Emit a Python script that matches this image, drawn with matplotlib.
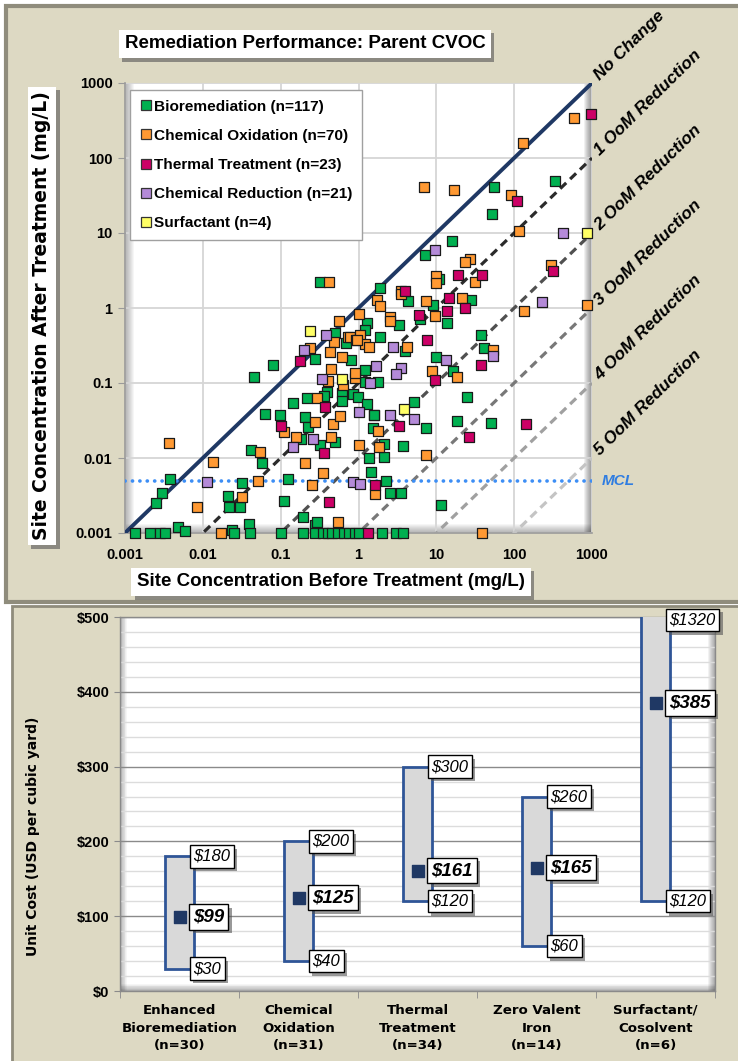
import matplotlib
matplotlib.use("Agg")
import matplotlib.pyplot as plt
import numpy as np
from matplotlib.patches import Rectangle
from matplotlib.lines import Line2D
import matplotlib.patheffects as pe

# ---------------- data: remediation performance (mg/L) ----------------
bio_before = [0.32, 0.5, 0.69, 0.28, 0.08, 0.046, 1.9, 1.28, 1.22, 1.9, 0.79, 1.23, 1.2,
              0.39, 0.22, 0.36, 0.61, 0.86, 0.62, 0.98, 1.28, 0.145, 1.59, 0.063, 0.098,
              0.206, 0.227, 0.18, 0.5, 0.32, 0.042, 0.058, 0.032, 0.126, 0.021, 0.022,
              0.03, 0.11, 1.37, 1.44, 0.196, 0.28, 0.29, 0.039, 0.0038, 0.003, 0.0025,
              0.0048, 0.0059, 0.024,
              0.00133, 0.0021, 0.0028, 0.0033, 0.025, 0.04, 0.101, 0.196, 0.28, 0.35,
              0.40, 0.45, 0.55, 0.65, 0.75, 0.9, 1.0, 1.98, 3.0, 3.7,
              15.7, 7.1, 330, 55, 52, 10.7, 4.3, 9.1, 27.7, 6.2, 13.9, 3.3, 4.0, 37, 41,
              9.9, 16.6, 1.77, 24.5, 18.3, 50, 11.5, 5.1, 7.3, 3.7, 2.1, 2.1, 1.55, 1.6,
              2.26, 2.55, 3.5]
bio_after = [2.2, 0.46, 0.34, 0.21, 0.174, 0.121, 1.86, 0.64, 0.51, 0.41, 0.20, 0.15, 0.104,
             0.077, 0.063, 0.067, 0.073, 0.071, 0.058, 0.066, 0.052, 0.054, 0.037, 0.039, 0.037,
             0.035, 0.026, 0.018, 0.0165, 0.0149, 0.0128, 0.0087, 0.0047, 0.0052, 0.0031, 0.0022,
             0.0022, 0.0027, 0.0099, 0.0066, 0.00165, 0.00128, 0.0014, 0.0013, 0.0052, 0.0034, 0.0025,
             0.0012, 0.00107, 0.0011,
             0.001, 0.001, 0.001, 0.001, 0.001, 0.001, 0.001, 0.001, 0.001, 0.001,
             0.001, 0.001, 0.001, 0.001, 0.001, 0.001, 0.001, 0.001, 0.001, 0.001,
             7.8, 5.1, 49, 41, 18, 2.4, 1.24, 1.08, 1.28, 0.72, 0.63, 0.59, 0.27, 0.43, 0.29,
             0.225, 0.146, 0.104, 0.066, 0.031, 0.029, 0.00236, 0.055, 0.025, 0.0145, 0.0102, 0.0152,
             0.025, 0.038, 0.005, 0.0034, 0.0034]

chemox_before = [0.42, 0.56, 0.73, 0.49, 0.24, 0.43, 0.61, 0.44, 0.41, 1.72, 1.0, 0.78, 0.93,
                 1.05, 1.23, 1.37, 0.90, 0.91, 0.64, 0.29, 0.11, 0.28, 0.47, 0.158, 0.44, 0.054,
                 0.0136, 0.051, 0.206, 0.35, 0.25, 0.032, 0.0083, 0.54, 0.017, 1.63, 1.01, 0.0037,
                 590, 130, 7, 17, 91, 114, 27, 23.5, 299, 9.9, 9.8, 31.7, 855, 135, 3.5, 3.55,
                 1.9, 7.4, 21.4, 9.5, 2.55, 2.55, 4.2, 54, 18.6, 8.7, 7.3, 1.85, 1.77, 39, 0.58, 0.95]
chemox_after = [2.2, 0.68, 0.41, 0.35, 0.29, 0.26, 0.22, 0.152, 0.107, 1.28, 0.82, 0.41, 0.38,
                0.43, 0.33, 0.30, 0.115, 0.134, 0.094, 0.063, 0.022, 0.030, 0.028, 0.019, 0.019, 0.0121,
                0.0089, 0.0049, 0.0085, 0.0064, 0.0043, 0.003, 0.0022, 0.0014, 0.001, 0.0033, 0.0149, 0.016,
                340, 160, 41, 37, 32, 10.6, 4.46, 4.07, 3.74, 2.7, 2.14, 2.2, 1.1, 0.91, 1.66, 1.55,
                1.06, 1.24, 1.35, 0.79, 0.75, 0.68, 0.30, 0.275, 0.121, 0.145, 0.011, 0.0139, 0.023, 0.001, 0.036, 0.37]

thermal_before = [0.176, 0.37, 0.1, 0.36, 0.42, 1.63, 1.34, 975, 110, 19.1, 38.8, 314, 3.9,
                  14.6, 23.5, 13.6, 6.0, 7.5, 37, 9.5, 3.35, 141, 26.3]
thermal_after = [0.198, 0.048, 0.027, 0.0118, 0.0026, 0.0044, 0.001, 390, 27, 2.75, 2.75, 3.14, 1.70,
                 1.35, 0.99, 0.92, 0.81, 0.37, 0.176, 0.11, 0.027, 0.028, 0.019]

chemred_before = [0.38, 0.20, 0.34, 1.68, 1.42, 1.0, 0.143, 0.26, 0.0112, 0.86, 1.05, 9.5, 423,
                  230, 2.8, 54, 13.2, 3.5, 3.0, 2.55, 5.2]
chemred_after = [0.43, 0.275, 0.114, 0.169, 0.099, 0.041, 0.0142, 0.018, 0.0048, 0.0048, 0.0045, 5.9,
                 10.1, 1.2, 0.30, 0.23, 0.20, 0.16, 0.13, 0.038, 0.033]

surf_before = [0.24, 0.62, 3.8, 850]
surf_after = [0.50, 0.114, 0.045, 10]

series_names = ["Bioremediation (n=117)", "Chemical Oxidation (n=70)", "Thermal Treatment (n=23)",
                "Chemical Reduction (n=21)", "Surfactant (n=4)"]
series_colors = ["#00b050", "#ff9933", "#cc0066", "#b48ad8", "#ffff66"]

reduction_labels = ["No Change", "1 OoM Reduction", "2 OoM Reduction", "3 OoM Reduction",
                    "4 OoM Reduction", "5 OoM Reduction"]
decade_ticks = [0.001, 0.01, 0.1, 1, 10, 100, 1000]
decade_labels = ["0.001", "0.01", "0.1", "1", "10", "100", "1000"]
mcl_value = 0.005

# ---------------- data: unit cost ----------------
cost_categories = ["Enhanced\nBioremediation\n(n=30)", "Chemical\nOxidation\n(n=31)",
                   "Thermal\nTreatment\n(n=34)", "Zero Valent\nIron\n(n=14)",
                   "Surfactant/\nCosolvent\n(n=6)"]
cost_low = [30, 40, 120, 60, 120]
cost_high = [180, 200, 300, 260, 1320]
cost_mean = [99, 125, 161, 165, 385]
cost_ticks = [0, 100, 200, 300, 400, 500]

# ---------------- figure ----------------
W, H = 738, 1061
fig = plt.figure(figsize=(W / 100, H / 100), dpi=100)
fig.patch.set_facecolor("white")
SANS = ["Liberation Sans", "DejaVu Sans"]
plt.rcParams["font.family"] = SANS


def fx(px):
    return px / W


def fy(py):
    return 1 - py / H


BEIGE = "#ddd9c3"
shadow = [pe.withSimplePatchShadow(offset=(2.5, -2.5), shadow_rgbFace="#555555", alpha=0.6)]

# background panels
fig.add_artist(Rectangle((fx(6), fy(602)), fx(745) - fx(6), fy(6) - fy(602), transform=fig.transFigure,
                         facecolor=BEIGE, edgecolor="#8f8c7c", lw=3, zorder=0))
fig.add_artist(Rectangle((fx(12), fy(1070)), fx(745) - fx(12), fy(606) - fy(1070), transform=fig.transFigure,
                         facecolor=BEIGE, edgecolor="#8f8c7c", lw=2, zorder=0))


def inner_shadow(ax, sides, depth_px=9, n=9, alpha=0.035):
    bb = ax.get_position()
    wpx = bb.width * W
    hpx = bb.height * H
    for i in range(n):
        d = depth_px * (i + 1) / n
        for s in sides:
            if s == "left":
                r = Rectangle((0, 0), d / wpx, 1)
            elif s == "right":
                r = Rectangle((1 - d / wpx, 0), d / wpx, 1)
            else:
                r = Rectangle((0, 0), 1, d / hpx)
            r.set_transform(ax.transAxes)
            r.set_facecolor("black")
            r.set_edgecolor("none")
            r.set_alpha(alpha)
            r.set_zorder(0.2)
            ax.add_artist(r)


# ---------------- scatter panel ----------------
ax = fig.add_axes([fx(125), fy(533), fx(592) - fx(125), fy(83) - fy(533)])
ax.set_facecolor("white")
ax.set_xscale("log")
ax.set_yscale("log")
ax.set_xlim(1e-3, 1e3)
ax.set_ylim(1e-3, 1e3)
ax.set_xticks(decade_ticks)
ax.set_yticks(decade_ticks)
ax.set_xticklabels(decade_labels)
ax.set_yticklabels(decade_labels)
ax.minorticks_off()
ax.grid(True, color="#d6d6d6", lw=1.3, zorder=0.5)
ax.set_axisbelow(True)
for s in ["top", "right"]:
    ax.spines[s].set_visible(False)
for s in ["left", "bottom"]:
    ax.spines[s].set_color("#9a9a9a")
    ax.spines[s].set_linewidth(1.2)
ax.tick_params(axis="y", length=5, color="#9a9a9a", pad=4, labelsize=10.5)
ax.tick_params(axis="x", length=0, pad=11, labelsize=10.5)
for lbl in ax.get_xticklabels() + ax.get_yticklabels():
    lbl.set_fontweight("bold")
inner_shadow(ax, ["left", "bottom"])
inner_shadow(ax, ["right"], depth_px=8, n=8, alpha=0.06)

line_x = np.array([1e-3, 1e3])
ax.plot(line_x, line_x, color="#1f3864", lw=2.8, zorder=3, solid_capstyle="butt")
gray_shades = ["#2b2b2b", "#505050", "#787878", "#a0a0a0", "#c4c4c4"]
for k, col in enumerate(gray_shades, start=1):
    ax.plot(line_x, line_x / 10 ** k, color=col, lw=2.3, ls=(0, (2.6, 1.7)), zorder=3)
ax.axhline(mcl_value, color="#3d8ef5", lw=2.6, ls=(0, (0.05, 2.0)), dash_capstyle="round", zorder=3)

all_before = [bio_before, chemox_before, thermal_before, chemred_before, surf_before]
all_after = [bio_after, chemox_after, thermal_after, chemred_after, surf_after]
for xb, ya, col in zip(all_before, all_after, series_colors):
    ax.scatter(xb, ya, marker="s", s=55, c=col, edgecolors="#1a1a1a", linewidths=0.9,
               zorder=5, clip_on=False)

handles = [Line2D([], [], marker="s", ls="", markersize=7.5, markerfacecolor=c,
                  markeredgecolor="#333333", markeredgewidth=0.9) for c in series_colors]
leg = ax.legend(handles, series_names, loc="upper left", bbox_to_anchor=(0.011, 0.985),
                prop={"family": SANS, "weight": "bold", "size": 11.1}, frameon=True, fancybox=False,
                edgecolor="#a0a0a0", framealpha=1, borderpad=0.65, labelspacing=0.98,
                handlelength=0.7, handletextpad=0.2, borderaxespad=0)
leg.get_frame().set_linewidth(1.0)
leg.set_zorder(6)

# diagonal line labels, anchored at the right end of each line
for k, txt in enumerate(reduction_labels):
    end_y = ax.transData.transform((1e3, 1e3 / 10 ** k))[1]
    ax.annotate(txt, xy=(1.0, 0), xycoords=("axes fraction", "figure pixels"),
                xytext=(600, end_y + 2), textcoords="figure pixels",
                rotation=44.5, rotation_mode="anchor", ha="left", va="baseline",
                fontsize=12.5, fontweight="bold", style="italic", color="black",
                annotation_clip=False)
fig.text(fx(618), fy(481), "MCL", ha="center", va="center", fontsize=11, fontweight="bold",
         style="italic", color="#2f7de1")

# titles in white boxes
t = fig.text(fx(305), fy(44), "Remediation Performance: Parent CVOC", ha="center", va="center",
             fontsize=13.5, fontweight="bold",
             bbox=dict(boxstyle="square,pad=0.3", fc="white", ec="none"))
t.get_bbox_patch().set_path_effects(shadow)
t = fig.text(fx(331), fy(582), "Site Concentration Before Treatment (mg/L)", ha="center", va="center",
             fontsize=13.5, fontweight="bold",
             bbox=dict(boxstyle="square,pad=0.3", fc="white", ec="none"))
t.get_bbox_patch().set_path_effects(shadow)
t = fig.text(fx(42), fy(316), "Site Concentration After Treatment (mg/L)", ha="center", va="center",
             rotation=90, fontsize=13.5, fontweight="bold", fontfamily=["DejaVu Sans"],
             bbox=dict(boxstyle="square,pad=0.25", fc="white", ec="none"))
t.get_bbox_patch().set_path_effects(shadow)

# ---------------- unit cost panel ----------------
ax2 = fig.add_axes([fx(120), fy(991), fx(715) - fx(120), fy(617) - fy(991)])
ax2.set_facecolor("white")
pos = np.arange(len(cost_categories))
ax2.set_xlim(-0.5, len(cost_categories) - 0.5)
ax2.set_ylim(0, 500)
ax2.set_yticks(cost_ticks)
ax2.set_yticklabels([f"${v}" for v in cost_ticks])
ax2.set_yticks(np.arange(0, 501, 20), minor=True)
ax2.grid(True, axis="y", which="minor", color="#dcdcdc", lw=1.0, zorder=0.5)
ax2.grid(True, axis="y", which="major", color="#8a8a8a", lw=1.0, zorder=0.6)
ax2.set_axisbelow(True)
ax2.set_xticks(pos)
ax2.set_xticklabels(cost_categories, fontfamily="DejaVu Sans", fontweight="bold", fontsize=9.6,
                    linespacing=1.5)
ax2.set_xticks(np.arange(-0.5, len(cost_categories), 1.0), minor=True)
ax2.tick_params(axis="x", which="major", length=0, pad=9)
ax2.tick_params(axis="x", which="minor", length=5, color="#8a8a8a")
ax2.tick_params(axis="y", which="major", length=4, color="#8a8a8a", labelsize=10.5)
ax2.tick_params(axis="y", which="minor", length=0)
for lbl in ax2.get_yticklabels():
    lbl.set_fontweight("bold")
for s in ax2.spines.values():
    s.set_color("#8a8a8a")
    s.set_linewidth(1.0)
inner_shadow(ax2, ["left", "bottom"], depth_px=7)
inner_shadow(ax2, ["right"], depth_px=7, n=7, alpha=0.05)

low = np.array(cost_low)
high = np.array(cost_high)
ax2.bar(pos, high - low, bottom=low, width=0.245, color="#d9d9d9", edgecolor="#2f5597",
        linewidth=2.0, zorder=3)
ax2.scatter(pos, cost_mean, marker="s", s=75, color="#1f3864", zorder=5)

label_box = dict(boxstyle="square,pad=0.22", fc="white", ec="black", lw=1.0)
for i in pos:
    for val, bold in [(cost_high[i], False), (cost_low[i], False), (cost_mean[i], True)]:
        yv = min(val, 496)
        tt = ax2.text(i + 0.115, yv, f"${val}", ha="left", va="center",
                      fontsize=13.5 if bold else 12, fontweight="bold" if bold else "normal",
                      style="italic", bbox=label_box, zorder=7, clip_on=False)
        tt.get_bbox_patch().set_path_effects(shadow)

fig.text(fx(33), fy(836), "Unit Cost (USD per cubic yard)", rotation=90, ha="center", va="center",
         fontfamily="DejaVu Sans", fontweight="bold", fontsize=10)

fig.savefig("out.png", dpi=100, facecolor=fig.get_facecolor())
